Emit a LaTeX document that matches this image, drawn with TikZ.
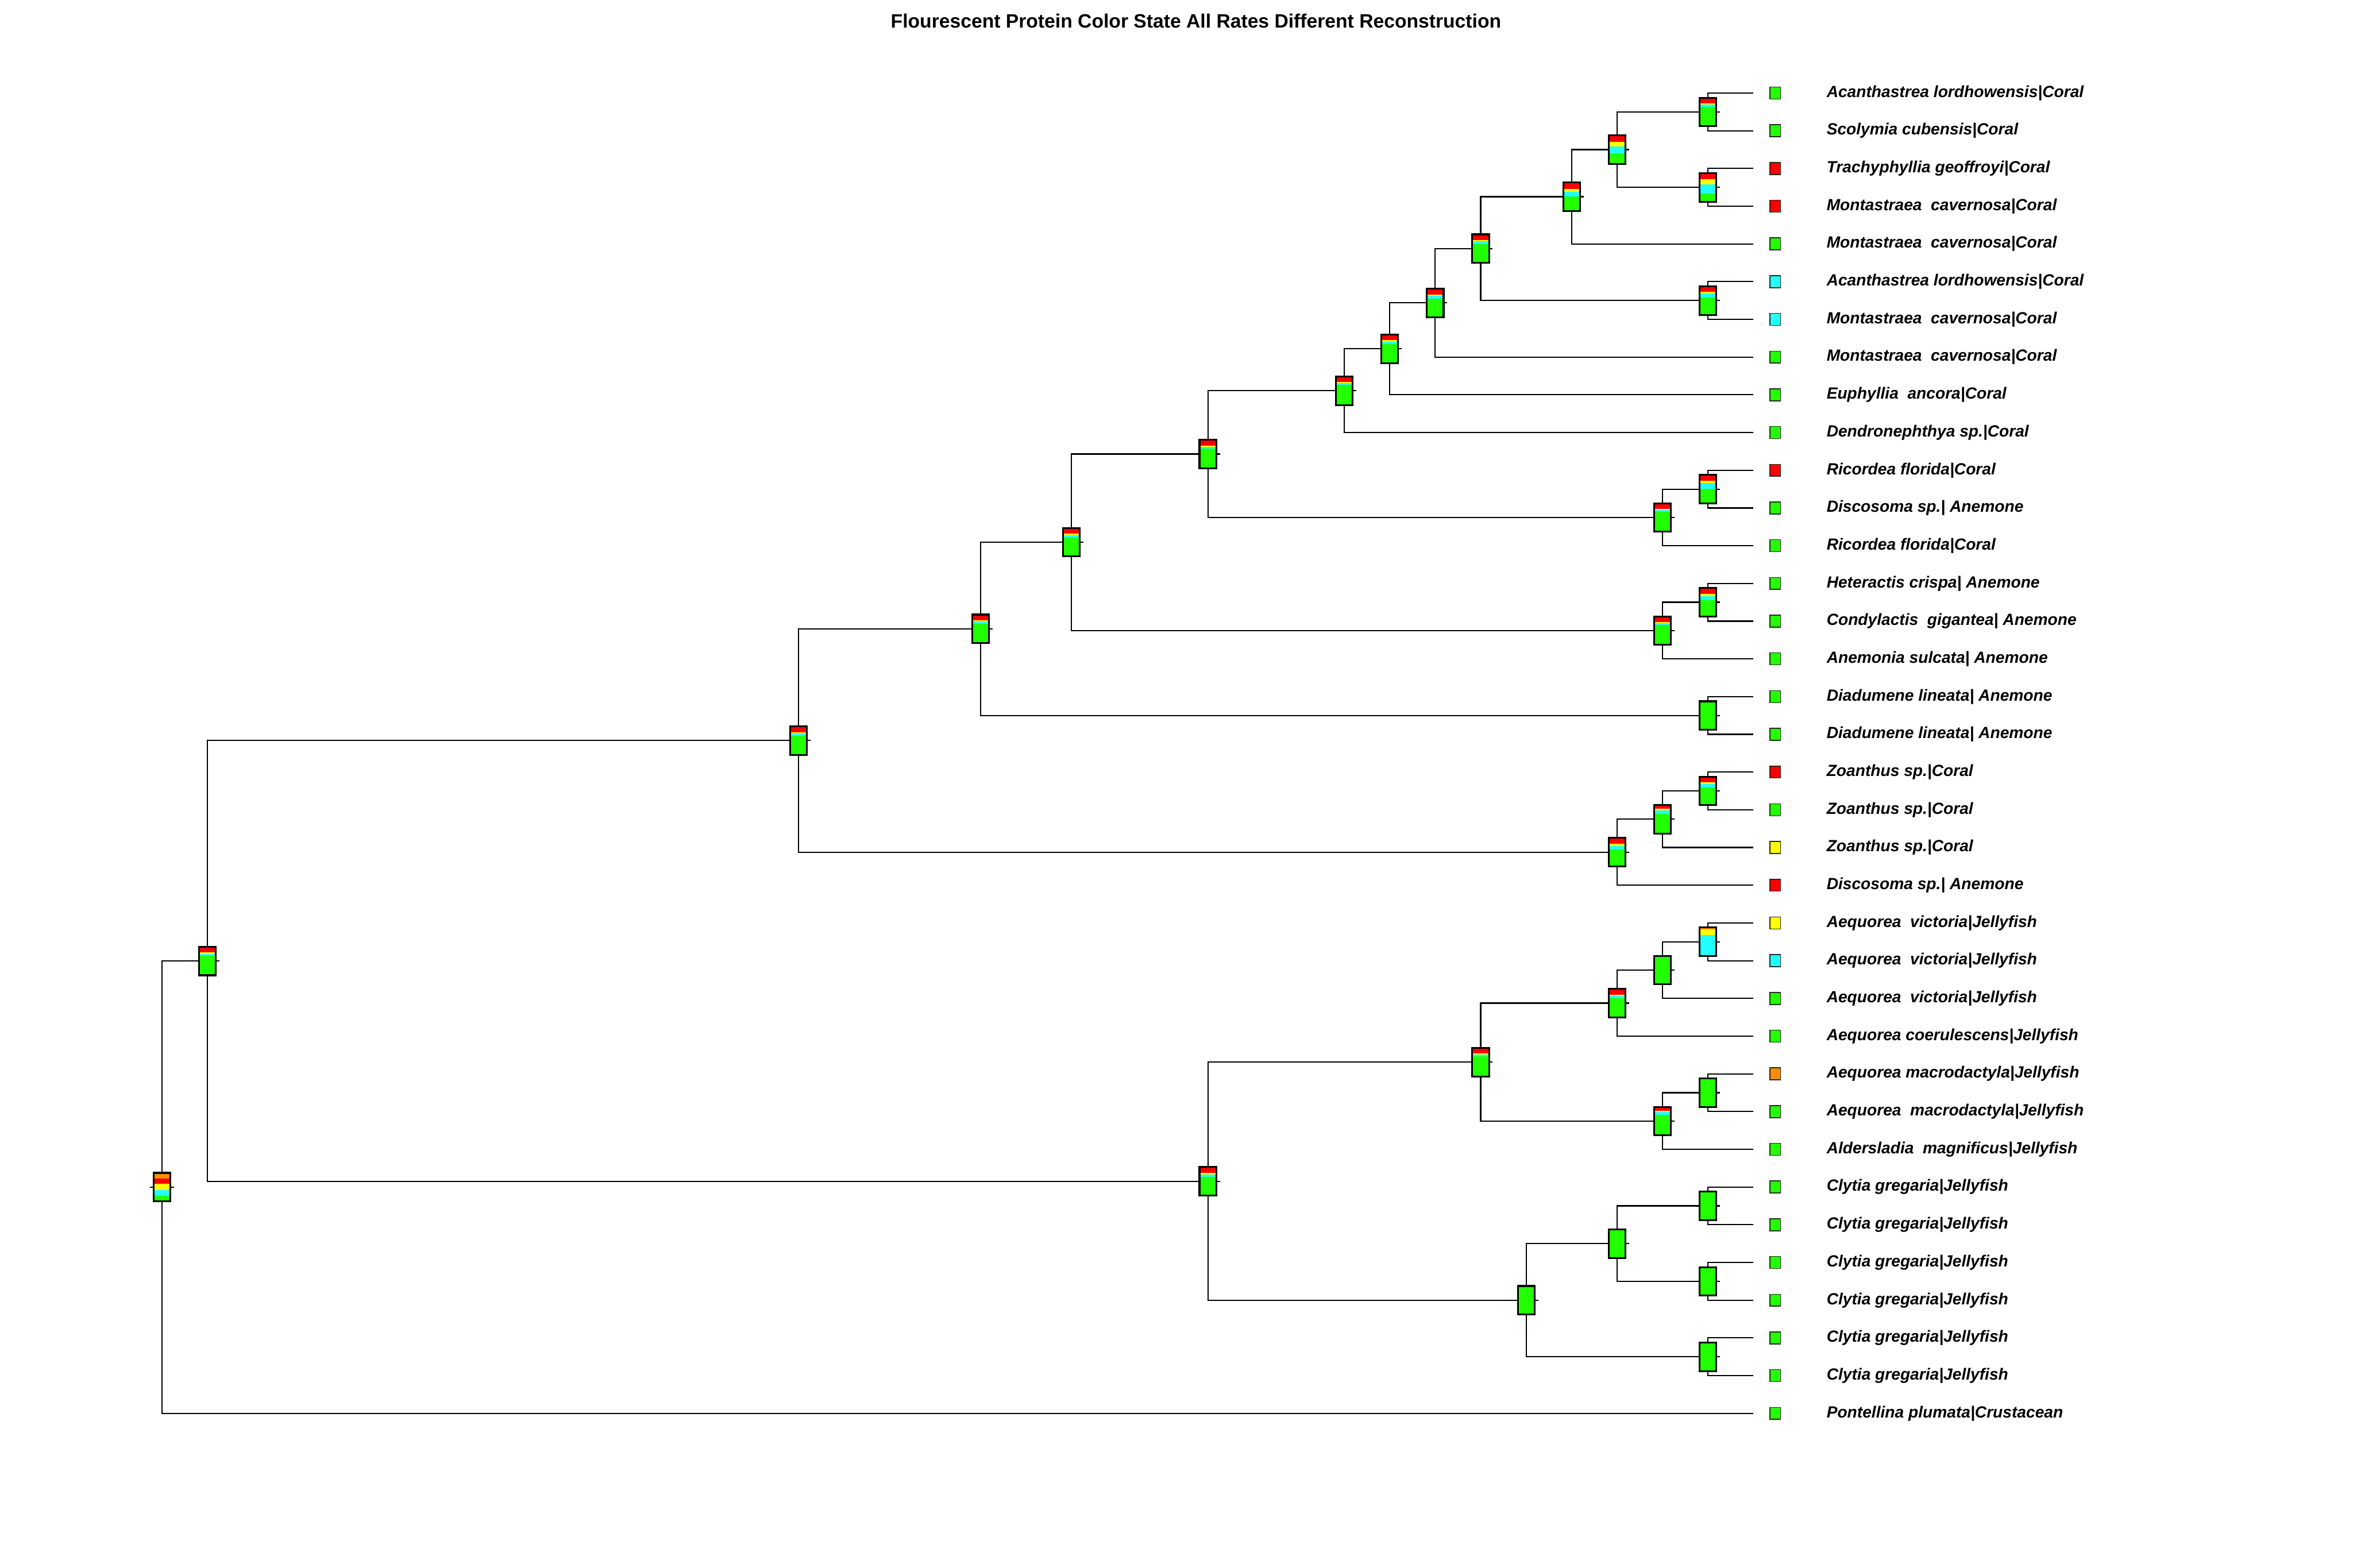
\documentclass[tikz,border=0pt]{standalone}
\usepackage{fontspec}
\setmainfont{Liberation Sans}
\usepackage{tikz}
\usetikzlibrary{positioning}

\definecolor{tgreen}{RGB}{34,255,0}
\definecolor{tcyan}{RGB}{34,255,255}
\definecolor{tyellow}{RGB}{255,255,0}
\definecolor{tred}{RGB}{255,0,0}
\definecolor{torange}{RGB}{255,140,0}

% thermo bar: orange, red, yellow, cyan shares from the top, green the rest
\newcommand{\nodethermo}[5]{%
  \begin{scope}[shift={(#1)}]
    \draw[branch] (-8,0) -- (8,0);
    \fill[tgreen] (-5.6,-9.5) rectangle (5.6,9.5);
    \fill[tcyan] (-5.6,-9.5) rectangle (5.6,{-9.5+19*(#2+#3+#4+#5)});
    \fill[tyellow] (-5.6,-9.5) rectangle (5.6,{-9.5+19*(#2+#3+#4)});
    \fill[tred] (-5.6,-9.5) rectangle (5.6,{-9.5+19*(#2+#3)});
    \fill[torange] (-5.6,-9.5) rectangle (5.6,{-9.5+19*#2});
    \draw[thermobox] (-5.6,-9.5) rectangle (5.6,9.5);
  \end{scope}}

\begin{document}
\begin{tikzpicture}[
        x=0.03cm, y=-0.03cm,
        branch/.style={line width=0.7pt},
        thermobox/.style={draw=black, line width=1pt},
        tipsq/.style={rectangle, draw=black!85, line width=0.5pt, inner sep=0pt,
                      minimum width=0.21cm, minimum height=0.24cm},
        taxon/.style={anchor=west, inner sep=0pt,
                      font=\fontsize{9.2}{11}\selectfont\bfseries\itshape},
        heading/.style={font=\fontsize{11}{13}\selectfont\bfseries}
    ]
        \useasboundingbox (0,0) rectangle (1568,1045);

        \node[heading] (title) at (797,14) {Flourescent Protein Color State All Rates Different Reconstruction};

        % tip ends
        \foreach \i in {1,...,36}
            \coordinate (e\i) at (1168.5,{62+(\i-1)*25.143});

        % internal nodes
        \coordinate (root) at (108,791.2);
        \coordinate (nA) at (138.3,640.5);
        \coordinate (nB) at (532.2,493.6);
        \coordinate (nC) at (653.4,419.1);
        \coordinate (nD) at (714,361.4);
        \coordinate (nE) at (804.9,302.6);
        \coordinate (nF) at (895.8,260.4);
        \coordinate (nG) at (926.1,232.5);
        \coordinate (nH) at (956.4,201.9);
        \coordinate (nI) at (986.7,165.7);
        \coordinate (nJ) at (1047.3,131.1);
        \coordinate (nK) at (1077.6,99.7);
        \coordinate (nL) at (1138.2,74.6);
        \coordinate (nM) at (1138.2,124.9);
        \coordinate (nN) at (1138.2,200.3);
        \coordinate (nO) at (1107.9,344.9);
        \coordinate (nP) at (1138.2,326.0);
        \coordinate (nQ) at (1107.9,420.3);
        \coordinate (nR) at (1138.2,401.4);
        \coordinate (nS) at (1138.2,476.9);
        \coordinate (nT) at (1077.6,568.0);
        \coordinate (nU) at (1107.9,546.0);
        \coordinate (nV) at (1138.2,527.1);
        \coordinate (nW) at (804.9,787.3);
        \coordinate (nX) at (986.7,707.9);
        \coordinate (nY) at (1077.6,668.6);
        \coordinate (nZ) at (1107.9,646.6);
        \coordinate (nZZ) at (1138.2,627.7);
        \coordinate (nXB) at (1107.9,747.2);
        \coordinate (nXC) at (1138.2,728.3);
        \coordinate (nCl) at (1017,866.6);
        \coordinate (nCm) at (1077.6,828.9);
        \coordinate (nCn) at (1138.2,803.7);
        \coordinate (nCo) at (1138.2,854.0);
        \coordinate (nCq) at (1138.2,904.3);

        % branches
        \foreach \pa/\ch in {root/nA, root/e36, nA/nB, nA/nW, nB/nC, nB/nT,
                nC/nD, nC/nS, nD/nE, nD/nQ, nE/nF, nE/nO, nF/nG, nF/e10,
                nG/nH, nG/e9, nH/nI, nH/e8, nI/nJ, nI/nN, nJ/nK, nJ/e5,
                nK/nL, nK/nM, nL/e1, nL/e2, nM/e3, nM/e4, nN/e6, nN/e7,
                nO/nP, nO/e13, nP/e11, nP/e12, nQ/nR, nQ/e16, nR/e14, nR/e15,
                nS/e17, nS/e18, nT/nU, nT/e22, nU/nV, nU/e21, nV/e19, nV/e20,
                nW/nX, nW/nCl, nX/nY, nX/nXB, nY/nZ, nY/e26, nZ/nZZ, nZ/e25,
                nZZ/e23, nZZ/e24, nXB/nXC, nXB/e29, nXC/e27, nXC/e28,
                nCl/nCm, nCl/nCq, nCm/nCn, nCm/nCo, nCn/e30, nCn/e31,
                nCo/e32, nCo/e33, nCq/e34, nCq/e35}
            \draw[branch] (\pa) |- (\ch);

        % node states
        \foreach \nd/\fo/\fr/\fy/\fc in {root/0.2/0.19/0.22/0.19,
                nA/0.02/0.18/0.05/0.07, nB/0.02/0.18/0.05/0.08, nC/0.02/0.18/0.05/0.08,
                nD/0.02/0.18/0.05/0.08, nE/0.02/0.18/0.04/0.06, nF/0.02/0.18/0.04/0.06,
                nG/0.02/0.18/0.05/0.08, nH/0.02/0.18/0.05/0.1, nI/0.02/0.18/0.05/0.1,
                nJ/0.01/0.21/0.11/0.17, nK/0.03/0.2/0.16/0.25, nL/0.02/0.18/0.035/0.09,
                nM/0.01/0.2/0.19/0.31, nN/0.02/0.18/0.05/0.15, nO/0.02/0.18/0.04/0.06,
                nP/0.02/0.18/0.08/0.2, nQ/0.02/0.18/0.04/0.06, nR/0.02/0.18/0.08/0.15,
                nS/0/0/0/0, nT/0.01/0.2/0.08/0.12, nU/0.03/0.11/0.06/0.11,
                nV/0.01/0.18/0.07/0.13, nW/0.03/0.18/0.05/0.08, nX/0.02/0.18/0.04/0.06,
                nY/0.02/0.18/0.05/0.08, nZ/0/0/0/0, nZZ/0.07/0/0.2/0.73,
                nXB/0.02/0.12/0.05/0.1, nXC/0/0/0/0, nCl/0/0/0/0, nCm/0/0/0/0,
                nCn/0/0/0/0, nCo/0/0/0/0, nCq/0/0/0/0}
            \nodethermo{\nd}{\fo}{\fr}{\fy}{\fc};

        % tips
        \foreach \lab/\col [count=\i] in {
                Acanthastrea lordhowensis|Coral/tgreen,
                Scolymia cubensis|Coral/tgreen,
                Trachyphyllia geoffroyi|Coral/tred,
                Montastraea\ \ cavernosa|Coral/tred,
                Montastraea\ \ cavernosa|Coral/tgreen,
                Acanthastrea lordhowensis|Coral/tcyan,
                Montastraea\ \ cavernosa|Coral/tcyan,
                Montastraea\ \ cavernosa|Coral/tgreen,
                Euphyllia\ \ ancora|Coral/tgreen,
                Dendronephthya sp.|Coral/tgreen,
                Ricordea florida|Coral/tred,
                Discosoma sp.| Anemone/tgreen,
                Ricordea florida|Coral/tgreen,
                Heteractis crispa| Anemone/tgreen,
                Condylactis\ \ gigantea| Anemone/tgreen,
                Anemonia sulcata| Anemone/tgreen,
                Diadumene lineata| Anemone/tgreen,
                Diadumene lineata| Anemone/tgreen,
                Zoanthus sp.|Coral/tred,
                Zoanthus sp.|Coral/tgreen,
                Zoanthus sp.|Coral/tyellow,
                Discosoma sp.| Anemone/tred,
                Aequorea\ \ victoria|Jellyfish/tyellow,
                Aequorea\ \ victoria|Jellyfish/tcyan,
                Aequorea\ \ victoria|Jellyfish/tgreen,
                Aequorea coerulescens|Jellyfish/tgreen,
                Aequorea macrodactyla|Jellyfish/torange,
                Aequorea\ \ macrodactyla|Jellyfish/tgreen,
                Aldersladia\ \ magnificus|Jellyfish/tgreen,
                Clytia gregaria|Jellyfish/tgreen,
                Clytia gregaria|Jellyfish/tgreen,
                Clytia gregaria|Jellyfish/tgreen,
                Clytia gregaria|Jellyfish/tgreen,
                Clytia gregaria|Jellyfish/tgreen,
                Clytia gregaria|Jellyfish/tgreen,
                Pontellina plumata|Crustacean/tgreen}
        {
            \node[tipsq, fill=\col] (sq\i) at (1183,{62+(\i-1)*25.143}) {};
            \node[taxon] (lab\i) at (1217,{62+(\i-1)*25.143}) {\lab};
        }
    \end{tikzpicture}
\end{document}
